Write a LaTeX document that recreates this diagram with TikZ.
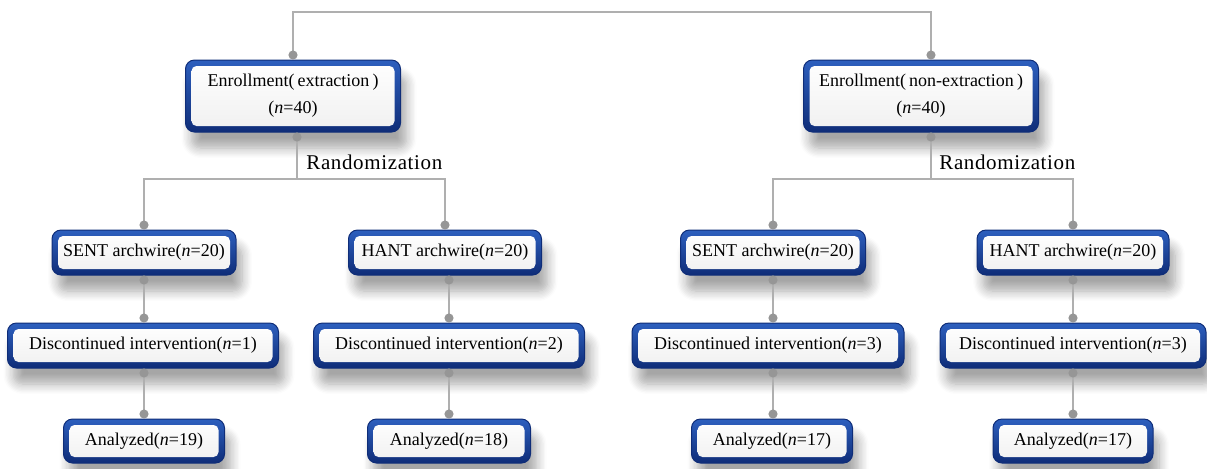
\documentclass[tikz,border=0pt]{standalone}
\usepackage{fontspec}
\setmainfont{Liberation Serif}
\usetikzlibrary{arrows.meta,calc,shadows.blur}
\definecolor{bordtop}{RGB}{45,95,190}
\definecolor{bordbot}{RGB}{15,45,120}
\definecolor{conncol}{RGB}{175,175,175}
\definecolor{dotcol}{RGB}{150,150,150}
\tikzset{
  box/.style={rectangle, rounded corners=4.5pt, top color=bordtop, bottom color=bordbot,
    draw=bordbot, line width=0.5pt, inner sep=0pt, align=center,
    blur shadow={shadow xshift=3pt, shadow yshift=-8pt, shadow opacity=35, shadow blur steps=8, shadow blur radius=5pt},
    path picture={\shade[top color=white, bottom color=black!6, rounded corners=2.5pt]
      ($(path picture bounding box.south west)+(3pt,3pt)$) rectangle
      ($(path picture bounding box.north east)+(-3pt,-3pt)$);},
    font=\fontsize{9}{13.5}\selectfont},
  conn/.style={draw=conncol, line width=1pt},
  dots/.style={conn, {Circle[length=4.5pt,color=dotcol]}-{Circle[length=4.5pt,color=dotcol]}},
  dotstart/.style={conn, {Circle[length=4.5pt,color=dotcol]}-},
  randlbl/.style={font=\fontsize{10.5}{12}\selectfont\addfontfeature{LetterSpace=3}, inner sep=0pt, anchor=west}
}
\begin{document}
\begin{tikzpicture}[x=0.5pt,y=-0.5pt]
\useasboundingbox (0,0) rectangle (1207,468);
% enrollment
\node[box, minimum width=107.5pt, minimum height=36pt] (e1) at (293,96) {Enrollment(\,extraction\,)\\(\textit{n}=40)};
\node[box, minimum width=117.5pt, minimum height=36pt] (e2) at (921,96) {Enrollment(\,non-extraction\,)\\(\textit{n}=40)};
% level 2
\node[box, minimum width=92pt, minimum height=22.5pt] (s1) at (144,252.5) {SENT archwire(\textit{n}=20)};
\node[box, minimum width=96.5pt, minimum height=22.5pt] (h1) at (445,252.5) {HANT archwire(\textit{n}=20)};
\node[box, minimum width=92.5pt, minimum height=22.5pt] (s2) at (773,252.5) {SENT archwire(\textit{n}=20)};
\node[box, minimum width=96pt, minimum height=22.5pt] (h2) at (1073,252.5) {HANT archwire(\textit{n}=20)};
% level 3
\node[box, minimum width=135.5pt, minimum height=22.5pt] (d1) at (143,345.5) {Discontinued intervention(\textit{n}=1)};
\node[box, minimum width=135.5pt, minimum height=22.5pt] (d2) at (449,345.5) {Discontinued intervention(\textit{n}=2)};
\node[box, minimum width=136pt, minimum height=22.5pt] (d3) at (768,345.5) {Discontinued intervention(\textit{n}=3)};
\node[box, minimum width=133pt, minimum height=22.5pt] (d4) at (1073,345.5) {Discontinued intervention(\textit{n}=3)};
% level 4
\node[box, minimum width=80.5pt, minimum height=22pt] (a1) at (144,441) {Analyzed(\textit{n}=19)};
\node[box, minimum width=81.5pt, minimum height=22pt] (a2) at (449,441) {Analyzed(\textit{n}=18)};
\node[box, minimum width=80.5pt, minimum height=22pt] (a3) at (772,441) {Analyzed(\textit{n}=17)};
\node[box, minimum width=80pt, minimum height=22pt] (a4) at (1073,441) {Analyzed(\textit{n}=17)};
% labels
\node[randlbl] (r1) at (306,162) {Randomization};
\node[randlbl] (r2) at (939,162) {Randomization};
% top connector
\draw[dots] (e1.north) -- ++(0,-48) -| ($(e2.north)+(10,0)$);
% randomization
\draw[dotstart] ($(e1.south)+(4,0)$) -- ++(0,46) coordinate (j1);
\draw[dots] (s1.north) |- (j1) -| (h1.north);
\draw[dotstart] ($(e2.south)+(10,0)$) -- ++(0,46) coordinate (j2);
\draw[dots] (s2.north) |- (j2) -| (h2.north);
% verticals
\draw[dots] (s1.south) -- (s1.south |- d1.north);
\draw[dots] (d1.south -| s1.south) -- (s1.south |- a1.north);
\draw[dots] (h1.south -| d2.north) -- (d2.north);
\draw[dots] (d2.south) -- (a2.north);
\draw[dots] (s2.south) -- (s2.south |- d3.north);
\draw[dots] (d3.south -| s2.south) -- (s2.south |- a3.north);
\draw[dots] (h2.south) -- (d4.north);
\draw[dots] (d4.south) -- (a4.north);
\end{tikzpicture}
\end{document}
